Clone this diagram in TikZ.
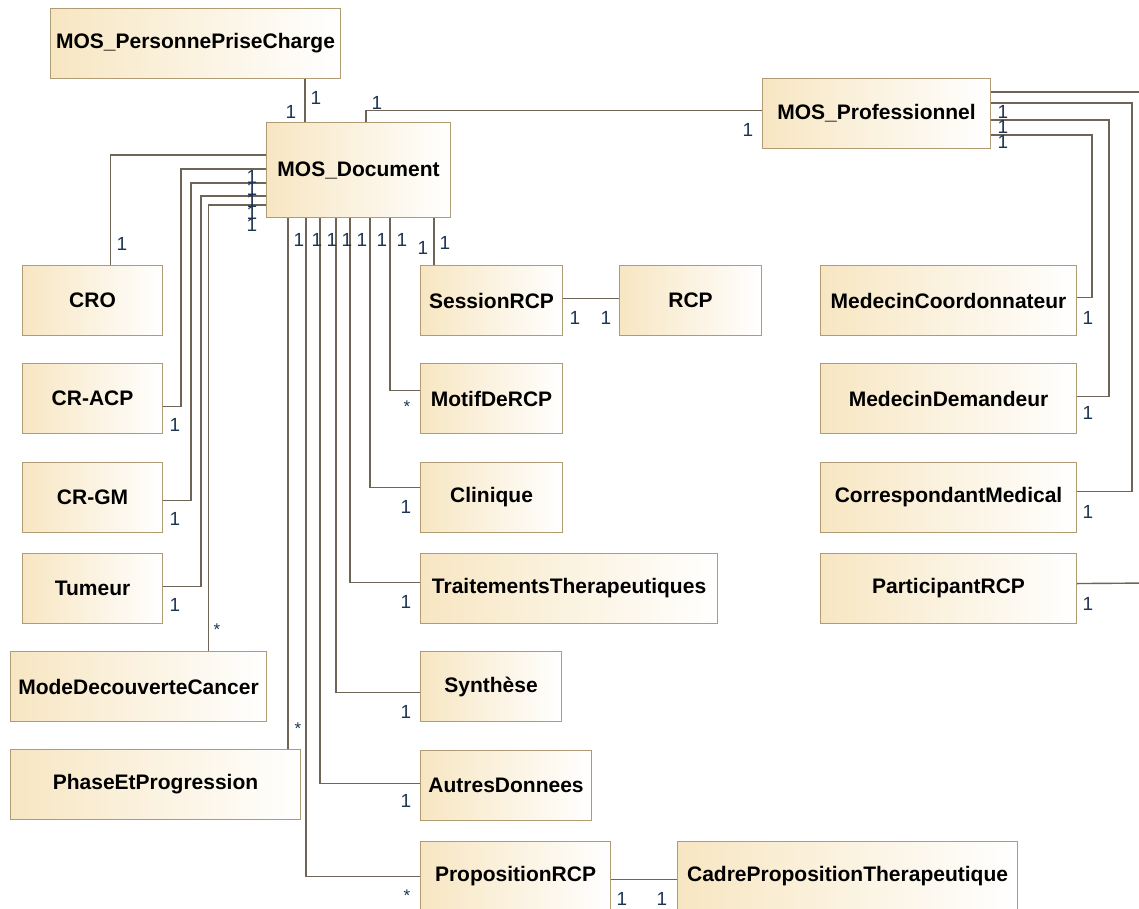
\documentclass[tikz,border=0pt]{standalone}
\usepackage{fontspec}
\setmainfont{Liberation Sans}
\definecolor{boxline}{HTML}{B09C74}
\definecolor{boxfill}{HTML}{F7E6C2}
\definecolor{connc}{HTML}{6E6556}
\definecolor{multc}{HTML}{1E3552}
\begin{document}
\begin{tikzpicture}[x=1pt,y=-1pt,
  umlbox/.style={draw=boxline, line width=1.1pt, left color=boxfill, right color=white,
    font=\bfseries\fontsize{21}{25}\selectfont, inner sep=0pt, anchor=north west, text=black},
  conn/.style={draw=connc, line width=1.4pt},
  mult/.style={font=\fontsize{19}{22}\selectfont, text=multc, inner sep=0pt},
  star/.style={font=\fontsize{17}{20}\selectfont, text=multc, inner sep=0pt}]
\useasboundingbox (0,0) rectangle (1139,908);
\clip (0,0) rectangle (1139,908);
\fill[white] (0,0) rectangle (1139,908);

% boxes
\node[umlbox, minimum width=290pt, minimum height=70pt] (ppc) at (50,8) {MOS\_PersonnePriseCharge};
\node[umlbox, minimum width=184pt, minimum height=95pt] (doc) at (266,122) {MOS\_Document};
\node[umlbox, minimum width=228pt, minimum height=70pt] (prof) at (762,78) {MOS\_Professionnel};
\node[umlbox, minimum width=140pt, minimum height=70pt] (cro) at (22,265) {CRO};
\node[umlbox, minimum width=140pt, minimum height=70pt] (cracp) at (22,363) {CR-ACP};
\node[umlbox, minimum width=140pt, minimum height=70pt] (crgm) at (22,462) {CR-GM};
\node[umlbox, minimum width=140pt, minimum height=70pt] (tum) at (22,553) {Tumeur};
\node[umlbox, minimum width=256pt, minimum height=70pt] (mdc) at (10,651) {ModeDecouverteCancer};
\node[umlbox, minimum width=290pt, minimum height=70pt] (pep) at (10,749) {PhaseEtProgression};
\node[umlbox, minimum width=142pt, minimum height=70pt] (sess) at (420,265) {SessionRCP};
\node[umlbox, minimum width=142pt, minimum height=70pt] (rcp) at (619,265) {RCP};
\node[umlbox, minimum width=142pt, minimum height=70pt] (motif) at (420,363) {MotifDeRCP};
\node[umlbox, minimum width=142pt, minimum height=70pt] (clin) at (420,462) {Clinique};
\node[umlbox, minimum width=297pt, minimum height=70pt] (trait) at (420,553) {TraitementsTherapeutiques};
\node[umlbox, minimum width=141pt, minimum height=70pt] (synth) at (420,651) {Synthèse};
\node[umlbox, minimum width=171pt, minimum height=70pt] (autres) at (420,750) {AutresDonnees};
\node[umlbox, minimum width=190pt, minimum height=70pt] (prop) at (420,841) {PropositionRCP};
\node[umlbox, minimum width=340pt, minimum height=70pt] (cadre) at (677,841) {CadrePropositionTherapeutique};
\node[umlbox, minimum width=256pt, minimum height=70pt] (mcoord) at (820,265) {MedecinCoordonnateur};
\node[umlbox, minimum width=256pt, minimum height=70pt] (mdem) at (820,363) {MedecinDemandeur};
\node[umlbox, minimum width=256pt, minimum height=70pt] (corr) at (820,462) {CorrespondantMedical};
\node[umlbox, minimum width=256pt, minimum height=70pt] (part) at (820,553) {ParticipantRCP};

% ports
\coordinate (dtop) at ([xshift=39pt]doc.north west);
\coordinate (dpro) at ([xshift=100pt]doc.north west);
\coordinate (dpep) at ([xshift=22pt]doc.south west);
\coordinate (dprop) at ([xshift=40pt]doc.south west);
\coordinate (daut) at ([xshift=54pt]doc.south west);
\coordinate (dsyn) at ([xshift=70pt]doc.south west);
\coordinate (dtr) at ([xshift=84pt]doc.south west);
\coordinate (dcl) at ([xshift=104pt]doc.south west);
\coordinate (dmo) at ([xshift=124pt]doc.south west);
\coordinate (dse) at ([xshift=168pt]doc.south west);
\coordinate (pr1) at ([yshift=-14pt]prof.north east);
\coordinate (pr2) at ([yshift=-25pt]prof.north east);
\coordinate (pr3) at ([yshift=-42pt]prof.north east);
\coordinate (pr4) at ([yshift=-57pt]prof.north east);
\coordinate (edge1) at (1150,92);
\coordinate (edge2) at (1150,583);

% connectors
\draw[conn] (dtop) -- (dtop |- ppc.south);
\draw[conn] (dpro) |- ([yshift=3pt]prof.west);
\draw[conn] ([yshift=-33pt]doc.north west) -| ([xshift=18pt]cro.north);
\draw[conn] ([yshift=-47pt]doc.north west) -| ([xshift=18pt,yshift=-8pt]cracp.east) -- ([yshift=-8pt]cracp.east);
\draw[conn] ([yshift=-61pt]doc.north west) -| ([xshift=28pt,yshift=-3pt]crgm.east) -- ([yshift=-3pt]crgm.east);
\draw[conn] ([yshift=-74pt]doc.north west) -| ([xshift=38pt,yshift=2pt]tum.east) -- ([yshift=2pt]tum.east);
\draw[conn] ([yshift=-83pt]doc.north west) -| ([xshift=70pt]mdc.north);
\draw[conn] (dpep) -- (dpep |- pep.north);
\draw[conn] (dprop) |- (prop.west);
\draw[conn] (daut) |- ([yshift=2pt]autres.west);
\draw[conn] (dsyn) |- ([yshift=-6pt]synth.west);
\draw[conn] (dtr) |- ([yshift=6pt]trait.west);
\draw[conn] (dcl) |- ([yshift=10pt]clin.west);
\draw[conn] (dmo) |- ([yshift=8pt]motif.west);
\draw[conn] (dse) -- (dse |- sess.north);
\draw[conn] ([yshift=2pt]sess.east) -- ([yshift=2pt]rcp.west);
\draw[conn] ([yshift=-3pt]prop.east) -- ([yshift=-3pt]cadre.west);
\draw[conn] (pr1) -- (edge1);
\draw[conn] (pr2) -| ([xshift=55pt,yshift=6pt]corr.east) -- ([yshift=6pt]corr.east);
\draw[conn] (pr3) -| ([xshift=32pt,yshift=2pt]mdem.east) -- ([yshift=2pt]mdem.east);
\draw[conn] (pr4) -| ([xshift=15pt,yshift=3pt]mcoord.east) -- ([yshift=3pt]mcoord.east);
\draw[conn] ([yshift=5pt]part.east) -- (edge2);

% multiplicities
\node[mult] (m1) at (291,112) {1};
\node[mult] (m2) at (316,98) {1};
\node[mult] (m3) at (377,103) {1};
\node[mult] (m4) at (748,130) {1};
\node[mult] (m5) at (252,177) {1};
\node[mult] (m6) at (252,189) {1};
\node[mult] (m7) at (252,201) {1};
\node[mult] (m8) at (252,213) {1};
\node[mult] (m9) at (252,225) {1};
\node[mult] (m10) at (122,244) {1};
\node[mult] (m11) at (175,425) {1};
\node[mult] (m12) at (175,519) {1};
\node[mult] (m13) at (175,605) {1};
\node[star] (m14) at (217,630) {*};
\node[mult] (m15) at (299,240) {1};
\node[mult] (m16) at (317,240) {1};
\node[mult] (m17) at (332,240) {1};
\node[mult] (m18) at (347,240) {1};
\node[mult] (m19) at (362,240) {1};
\node[mult] (m20) at (382,240) {1};
\node[mult] (m21) at (402,240) {1};
\node[mult] (m22) at (423,248) {1};
\node[mult] (m23) at (445,243) {1};
\node[star] (m24) at (298,729) {*};
\node[star] (m25) at (407,896) {*};
\node[mult] (m26) at (406,801) {1};
\node[mult] (m27) at (406,712) {1};
\node[mult] (m28) at (406,602) {1};
\node[mult] (m29) at (406,507) {1};
\node[star] (m30) at (407,407) {*};
\node[mult] (m31) at (575,318) {1};
\node[mult] (m32) at (606,318) {1};
\node[mult] (m33) at (622,899) {1};
\node[mult] (m34) at (662,899) {1};
\node[mult] (m35) at (1003,112) {1};
\node[mult] (m36) at (1003,127) {1};
\node[mult] (m37) at (1003,142) {1};
\node[mult] (m38) at (1088,318) {1};
\node[mult] (m39) at (1088,413) {1};
\node[mult] (m40) at (1088,512) {1};
\node[mult] (m41) at (1088,604) {1};
\end{tikzpicture}
\end{document}
